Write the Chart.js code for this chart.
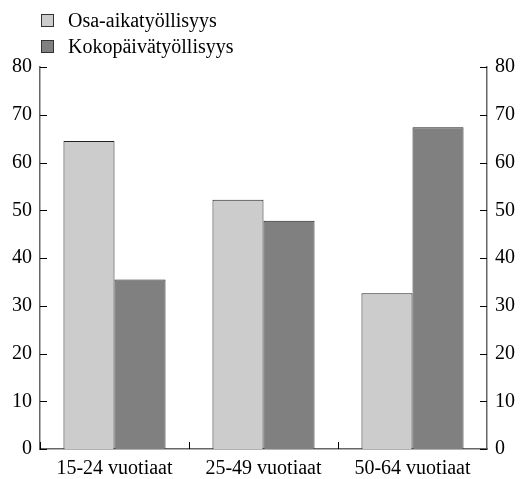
<!DOCTYPE html>
<html>
<head>
<meta charset="utf-8">
<script src="https://cdn.jsdelivr.net/npm/chart.js@4.4.0/dist/chart.umd.min.js"></script>
<style>
  html, body { margin: 0; padding: 0; background: #fff; }
  #wrap { position: relative; width: 528px; height: 479px; }
  #legend { position: absolute; left: 41px; top: 7px; font-family: "Liberation Serif", "Times New Roman", serif; font-size: 20px; color: #000; }
  .item { display: flex; align-items: center; height: 26px; }
  .box { width: 11px; height: 11px; border: 1px solid #333; margin-right: 14px; }
</style>
</head>
<body>
<div id="wrap">
  <canvas id="chart" width="528" height="479"></canvas>
  <div id="legend"></div>
</div>
<script>
// data
const categories = ["15-24 vuotiaat", "25-49 vuotiaat", "50-64 vuotiaat"];
const seriesNames = ["Osa-aikatyöllisyys", "Kokopäivätyöllisyys"];
const partTime = [64.5, 52.2, 32.6];
const fullTime = [35.5, 47.8, 67.4];
const colors = ["#cccccc", "#808080"];

// legend as html
const legendEl = document.getElementById("legend");
legendEl.innerHTML = seriesNames.map((name, i) => `
    <div class="item"><span class="box" style="background:${colors[i]}"></span>${name}</div>
`).join("");

// inward tick marks
const innerTicks = {
    id: "innerTicks",
    afterDraw(chart) {
        const ctx = chart.ctx;
        const yl = chart.scales.y;
        const yr = chart.scales.y2;
        const x = chart.scales.x;
        ctx.save();
        ctx.strokeStyle = "#000";
        ctx.lineWidth = 1;
        yl.ticks.forEach((t) => {
            const py = Math.round(yl.getPixelForValue(t.value)) + 0.5;
            ctx.beginPath();
            ctx.moveTo(yl.right, py);
            ctx.lineTo(yl.right + 7, py);
            ctx.stroke();
            ctx.beginPath();
            ctx.moveTo(yr.left, py);
            ctx.lineTo(yr.left - 7, py);
            ctx.stroke();
        });
        // category boundaries on the bottom axis
        const step = x.getPixelForValue(1) - x.getPixelForValue(0);
        for (let i = 0; i < categories.length; i++) {
            const px = Math.round(x.getPixelForValue(i) - step / 2) + 0.5;
            ctx.beginPath();
            ctx.moveTo(px, x.top);
            ctx.lineTo(px, x.top - 7);
            ctx.stroke();
        }
        ctx.restore();
    }
};

const font = { family: "'Liberation Serif', 'Times New Roman', serif", size: 20 };

new Chart(document.getElementById("chart"), {
    type: "bar",
    data: {
        labels: categories,
        datasets: [
            { label: seriesNames[0], data: partTime, backgroundColor: colors[0], borderColor: "#222", borderWidth: 1, yAxisID: "y" },
            { label: seriesNames[1], data: fullTime, backgroundColor: colors[1], borderColor: "#222", borderWidth: 1, yAxisID: "y" }
        ]
    },
    options: {
        responsive: false,
        animation: false,
        devicePixelRatio: 1,
        layout: { padding: { top: 67, left: 0, right: 0, bottom: 0 } },
        datasets: { bar: { categoryPercentage: 0.685, barPercentage: 1 } },
        plugins: { legend: { display: false }, tooltip: { enabled: false } },
        scales: {
            x: {
                grid: { display: false, drawTicks: false },
                border: { color: "#666", width: 1.5 },
                ticks: { font, color: "#000", padding: 8 },
                afterFit: (s) => { s.height = 30; }
            },
            y: {
                position: "left",
                min: 0, max: 80,
                grid: { display: false, drawTicks: false },
                border: { color: "#666", width: 1.5 },
                ticks: { stepSize: 10, font, color: "#000", padding: 8 },
                afterFit: (s) => { s.width = 40; }
            },
            y2: {
                position: "right",
                min: 0, max: 80,
                grid: { display: false, drawTicks: false },
                border: { color: "#666", width: 1.5 },
                ticks: { stepSize: 10, font, color: "#000", padding: 8 },
                afterFit: (s) => { s.width = 41; }
            }
        }
    },
    plugins: [innerTicks]
});
</script>
</body>
</html>
